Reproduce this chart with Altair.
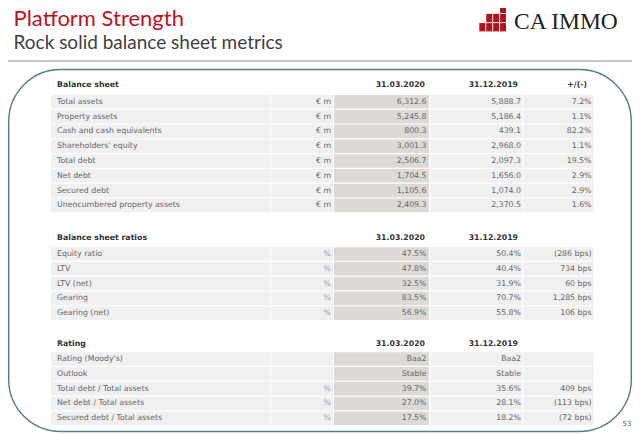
import altair as alt
import pandas as pd

# ---------------- data ----------------
title = "Platform Strength"
subtitle = "Rock solid balance sheet metrics"
brand = "CA IMMO"
page_no = "53"

col_headers = ["31.03.2020", "31.12.2019", "+/(-)"]

bs_title = "Balance sheet"
bs_labels = ["Total assets", "Property assets", "Cash and cash equivalents",
             "Shareholders' equity", "Total debt", "Net debt", "Secured debt",
             "Unencumbered property assets"]
bs_unit = "€ m"
bs_2020 = [6312.6, 5245.8, 800.3, 3001.3, 2506.7, 1704.5, 1105.6, 2409.3]
bs_2019 = [5888.7, 5186.4, 439.1, 2968.0, 2097.3, 1656.0, 1074.0, 2370.5]
bs_change = [7.2, 1.1, 82.2, 1.1, 19.5, 2.9, 2.9, 1.6]

ratio_title = "Balance sheet ratios"
ratio_labels = ["Equity ratio", "LTV", "LTV (net)", "Gearing", "Gearing (net)"]
ratio_2020 = [47.5, 47.8, 32.5, 83.5, 56.9]
ratio_2019 = [50.4, 40.4, 31.9, 70.7, 55.8]
ratio_bps = [-286, 734, 60, 1285, 106]

rating_title = "Rating"
rating_labels = ["Rating (Moody's)", "Outlook", "Total debt / Total assets",
                 "Net debt / Total assets", "Secured debt / Total assets"]
rating_units = ["", "", "%", "%", "%"]
rating_2020 = ["Baa2", "Stable", 39.7, 27.0, 17.5]
rating_2019 = ["Baa2", "Stable", 35.6, 28.1, 18.2]
rating_bps = [None, None, 409, -113, -72]

# logo grid (column, row) of the red blocks
logo_cols = [0, 1, 1, 2, 2, 3, 3, 3]
logo_rows = [2, 1, 2, 1, 2, 0, 1, 2]

# ---------------- formatting ----------------
def f_num(v):
    return f"{v:,.1f}"

def f_pct(v):
    return v if isinstance(v, str) else f"{v:.1f}%"

def f_bps(v):
    if v is None:
        return ""
    return f"({abs(v):,} bps)" if v < 0 else f"{v:,} bps"

# ---------------- layout ----------------
OFF = 8
W, H = 624, 426
FONT = "DejaVu Sans"
FS = 7.8
U = 14.8
header_slots = [0.0, 10.4, 17.5]
first_slots = [1.17, 11.45, 18.55]
yscale = alt.Scale(domain=[0, 20], range=[84.5 - OFF, 84.5 - OFF + 20 * U])

rows = []
def add(tbl, labels, units, a, b, c, ucolor):
    for i, lab in enumerate(labels):
        s = first_slots[tbl] + i
        rows.append(dict(slot=s, lo=s - 0.46, hi=s + 0.46, label=lab,
                         unit=units[i], a=a[i], b=b[i], c=c[i], ucol=ucolor))

add(0, bs_labels, [bs_unit] * len(bs_labels), [f_num(v) for v in bs_2020],
    [f_num(v) for v in bs_2019], [f_pct(v) for v in bs_change], "#666666")
add(1, ratio_labels, ["%"] * len(ratio_labels), [f_pct(v) for v in ratio_2020],
    [f_pct(v) for v in ratio_2019], [f_bps(v) for v in ratio_bps], "#a0a0a0")
add(2, rating_labels, rating_units, [f_pct(v) for v in rating_2020],
    [f_pct(v) for v in rating_2019], [f_bps(v) for v in rating_bps], "#a0a0a0")
body = pd.DataFrame(rows)

heads = pd.DataFrame(dict(
    slot=header_slots,
    label=[bs_title, ratio_title, rating_title],
    a=[col_headers[0]] * 3,
    b=[col_headers[1]] * 3,
    c=[col_headers[2], "", ""],
))

logo = pd.DataFrame(dict(c0=logo_cols, r0=logo_rows))
logo["c1"] = logo["c0"] + 0.86
logo["r1"] = logo["r0"] + 0.9

one = pd.DataFrame({"t": [title], "s": [subtitle], "b": [brand], "p": [page_no]})

layers = []

# title area
layers.append(alt.Chart(one).mark_text(font="Lato", fontSize=22, color="#c0111f",
                                       align="left", baseline="alphabetic")
              .encode(text="t:N", x=alt.value(13.5 - OFF), y=alt.value(25.5 - OFF)))
layers.append(alt.Chart(one).mark_text(font="Lato", fontSize=19, color="#404040",
                                       align="left", baseline="alphabetic")
              .encode(text="s:N", x=alt.value(13.5 - OFF), y=alt.value(48.5 - OFF)))
layers.append(alt.Chart(one).mark_text(font="Liberation Serif", fontSize=23.5, color="#222222",
                                       align="left", baseline="alphabetic")
              .encode(text="b:N", x=alt.value(514 - OFF), y=alt.value(28.5 - OFF)))
layers.append(alt.Chart(logo).mark_rect(color="#b3121c").encode(
    x=alt.X("c0:Q", scale=alt.Scale(domain=[0, 4], range=[479.3 - OFF, 507 - OFF]), axis=None),
    x2="c1:Q",
    y=alt.Y("r0:Q", scale=alt.Scale(domain=[0, 3], range=[4.7 - OFF, 32.3 - OFF]), axis=None),
    y2="r1:Q"))
layers.append(alt.Chart(one).mark_rule(color="#c8c8c8", strokeWidth=2).encode(
    x=alt.value(0), x2=alt.value(W), y=alt.value(61 - OFF)))

# rounded frame
layers.append(alt.Chart(one).mark_rect(fillOpacity=0, stroke="#4f8085", strokeWidth=1.4,
                                       cornerRadius=52).encode(
    x=alt.value(8.7 - OFF), x2=alt.value(631.3 - OFF), y=alt.value(69.5 - OFF), y2=alt.value(431.5 - OFF)))

# cell backgrounds
cols = [
    # key, x1, x2, xtext, fill
    ("label", 51, 270.5, 57, "#f0f0f0"),
    ("unit", 271.5, 333, 331, "#f0f0f0"),
    ("a", 334, 429, 426.5, "#dddad6"),
    ("b", 430.5, 522.5, 521, "#f0f0f0"),
    ("c", 523.5, 593.5, 591.5, "#f0f0f0"),
]
for key, x1, x2, xt, fill in cols:
    layers.append(alt.Chart(body).mark_rect(color=fill).encode(
        x=alt.value(x1 - OFF), x2=alt.value(x2 - OFF),
        y=alt.Y("lo:Q", scale=yscale, axis=None), y2="hi:Q"))

for key, x1, x2, xt, fill in cols:
    align = "left" if key == "label" else "right"
    enc = dict(x=alt.value(xt - OFF), y=alt.Y("slot:Q", scale=yscale, axis=None),
               text=f"{key}:N")
    if key == "unit":
        enc["color"] = alt.Color("ucol:N", scale=None)
    layers.append(alt.Chart(body).mark_text(font=FONT, fontSize=FS, color="#666666",
                                            align=align, baseline="middle").encode(**enc))

# table headers
head_pos = [("label", 57, "left"), ("a", 425, "right"), ("b", 518, "right"), ("c", 587, "right")]
for key, xt, align in head_pos:
    layers.append(alt.Chart(heads).mark_text(font=FONT, fontSize=FS, fontWeight="bold",
                                             color="#333333", align=align, baseline="middle")
                  .encode(x=alt.value(xt - OFF), y=alt.Y("slot:Q", scale=yscale, axis=None),
                          text=f"{key}:N"))

# page number
layers.append(alt.Chart(one).mark_text(font=FONT, fontSize=7, color="#555555",
                                       align="right", baseline="middle")
              .encode(text="p:N", x=alt.value(W - 0.5), y=alt.value(424 - OFF)))

chart = (alt.layer(*layers)
         .resolve_scale(x="independent", y="independent")
         .properties(width=W, height=H, padding=0, autosize=alt.AutoSizeParams(type="none"))
         .configure_view(stroke=None))

chart.save("out.html", embed_options={"renderer": "svg", "actions": False})
